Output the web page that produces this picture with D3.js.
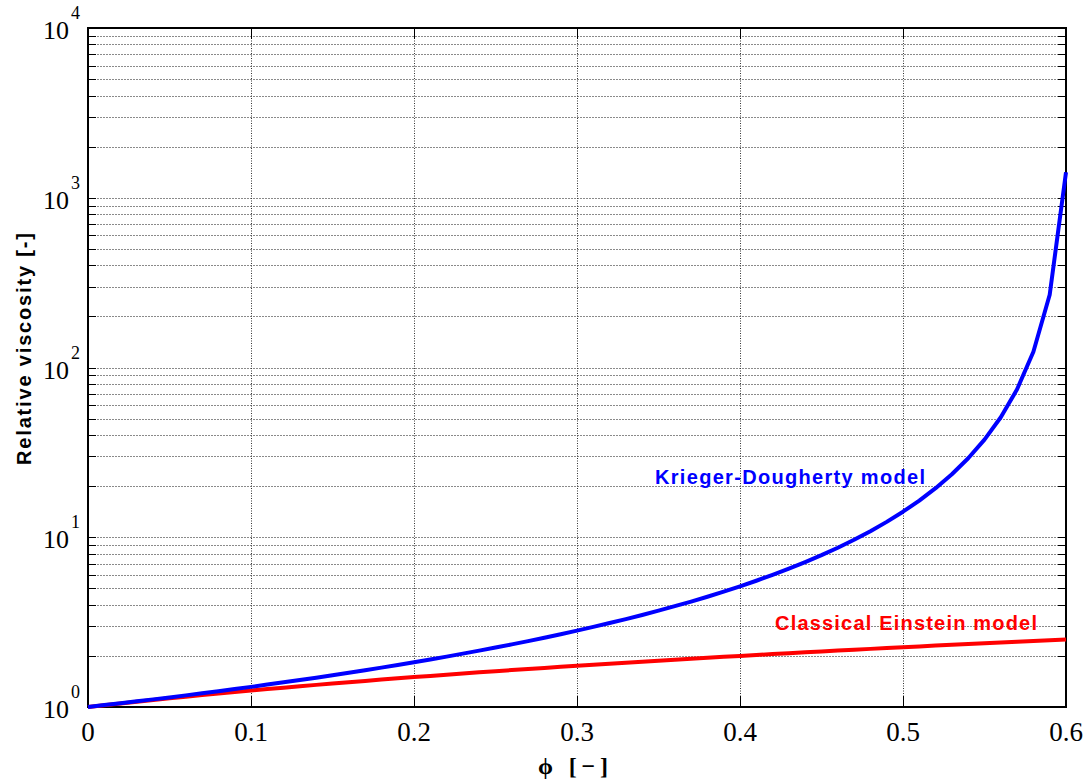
<!DOCTYPE html>
<html><head><meta charset="utf-8">
<script src="https://cdn.jsdelivr.net/npm/d3@7"></script>
<style>body{margin:0;background:#fff}svg{display:block}</style>
</head><body>
<svg id="c" width="1088" height="783"></svg>
<script>
const phi = [0,0.01,0.02,0.03,0.04,0.05,0.06,0.07,0.08,0.09,0.10,0.11,0.12,0.13,0.14,0.15,0.16,0.17,0.18,0.19,0.20,0.21,0.22,0.23,0.24,0.25,0.26,0.27,0.28,0.29,0.30,0.31,0.32,0.33,0.34,0.35,0.36,0.37,0.38,0.39,0.40,0.41,0.42,0.43,0.44,0.45,0.46,0.47,0.48,0.49,0.50,0.51,0.52,0.53,0.54,0.55,0.56,0.57,0.58,0.59,0.60];
const kriegerDougherty = [1,1.026,1.052,1.080,1.109,1.139,1.171,1.204,1.239,1.276,1.314,1.355,1.397,1.442,1.489,1.539,1.591,1.647,1.706,1.768,1.835,1.906,1.981,2.062,2.148,2.240,2.339,2.445,2.560,2.684,2.818,2.963,3.122,3.295,3.485,3.694,3.925,4.180,4.464,4.782,5.139,5.543,6.003,6.529,7.137,7.844,8.677,9.666,10.86,12.32,14.14,16.45,19.46,23.52,29.20,37.60,50.93,74.47,123.9,268.3,1414];
const einstein = [1,1.025,1.05,1.075,1.1,1.125,1.15,1.175,1.2,1.225,1.25,1.275,1.3,1.325,1.35,1.375,1.4,1.425,1.45,1.475,1.5,1.525,1.55,1.575,1.6,1.625,1.65,1.675,1.7,1.725,1.75,1.775,1.8,1.825,1.85,1.875,1.9,1.925,1.95,1.975,2.0,2.025,2.05,2.075,2.1,2.125,2.15,2.175,2.2,2.225,2.25,2.275,2.3,2.325,2.35,2.375,2.4,2.425,2.45,2.475,2.5];
const xTicks = [0,0.1,0.2,0.3,0.4,0.5,0.6];
const xTickLabels = ["0","0.1","0.2","0.3","0.4","0.5","0.6"];
const yMajor = [1,10,100,1000,10000];
const yExp = ["0","1","2","3","4"];

const L=88,R=1066,T=28,B=707;
const svg=d3.select("#c");
const x=d3.scaleLinear().domain([0,0.6]).range([L,R]);
const y=d3.scaleLog().domain([1,10000]).range([B,T]);

const yMinor=[];
for(let d=1;d<10000;d*=10){for(let m=2;m<=9;m++)yMinor.push(d*m);}
const yAll=yMinor.concat(yMajor.slice(1,4));

const g=svg.append("g");
g.selectAll("line.hg").data(yAll).enter().append("line")
 .attr("x1",L).attr("x2",R).attr("y1",d=>Math.round(y(d))+0.5).attr("y2",d=>Math.round(y(d))+0.5)
 .attr("stroke","#8a8a8a").attr("stroke-width",1).attr("stroke-dasharray","2,1");
g.selectAll("line.vg").data(xTicks.slice(1,6)).enter().append("line")
 .attr("y1",T).attr("y2",B).attr("x1",d=>Math.round(x(d))+0.5).attr("x2",d=>Math.round(x(d))+0.5)
 .attr("stroke","#333").attr("stroke-width",1).attr("stroke-dasharray","1,1.5");

const yT=yAll.concat(yMajor);
g.selectAll("line.ylt").data(yT).enter().append("line")
 .attr("x1",L).attr("x2",L+8).attr("y1",d=>Math.round(y(d))+0.5).attr("y2",d=>Math.round(y(d))+0.5)
 .attr("stroke","#000").attr("stroke-width",1);
g.selectAll("line.yrt").data(yT).enter().append("line")
 .attr("x1",R-8).attr("x2",R).attr("y1",d=>Math.round(y(d))+0.5).attr("y2",d=>Math.round(y(d))+0.5)
 .attr("stroke","#000").attr("stroke-width",1);
g.selectAll("line.xbt").data(xTicks).enter().append("line")
 .attr("y1",B).attr("y2",B-11).attr("x1",d=>Math.round(x(d))+0.5).attr("x2",d=>Math.round(x(d))+0.5)
 .attr("stroke","#000").attr("stroke-width",1);
g.selectAll("line.xtt").data(xTicks).enter().append("line")
 .attr("y1",T).attr("y2",T+11).attr("x1",d=>Math.round(x(d))+0.5).attr("x2",d=>Math.round(x(d))+0.5)
 .attr("stroke","#000").attr("stroke-width",1);

svg.append("rect").attr("x",L).attr("y",T).attr("width",R-L).attr("height",B-T)
 .attr("fill","none").attr("stroke","#000").attr("stroke-width",2);

const line=d3.line().x((d,i)=>x(phi[i])).y(d=>y(d));
svg.append("path").datum(einstein).attr("d",line).attr("fill","none").attr("stroke","#ff0000").attr("stroke-width",4).attr("stroke-linejoin","round");
svg.append("path").datum(kriegerDougherty).attr("d",line).attr("fill","none").attr("stroke","#0000ff").attr("stroke-width",4).attr("stroke-linejoin","round");

const serif="Liberation Serif, Times New Roman, serif";
const sans="Liberation Sans, Arial, sans-serif";
svg.selectAll("text.xl").data(xTicks).enter().append("text")
 .attr("x",d=>x(d)).attr("y",741).attr("text-anchor","middle")
 .attr("font-family",serif).attr("font-size",27)
 .text((d,i)=>xTickLabels[i]);
const yl=svg.selectAll("g.yl").data(yMajor).enter().append("g");
yl.append("text").attr("x",69).attr("y",d=>y(d)+11).attr("text-anchor","end")
 .attr("font-family",serif).attr("font-size",26).text("10");
yl.append("text").attr("x",71).attr("y",d=>y(d)-9)
 .attr("font-family",serif).attr("font-size",18).text((d,i)=>yExp[i]);

svg.append("text").attr("x",538).attr("y",774)
 .attr("font-family",serif).attr("font-size",24).attr("font-weight","bold")
 .attr("textLength",70).attr("lengthAdjust","spacing")
 .text("ϕ [−]");
svg.append("text").attr("transform","translate(31,349) rotate(-90)").attr("text-anchor","middle")
 .attr("font-family",sans).attr("font-size",20).attr("font-weight","bold")
 .attr("textLength",232).attr("lengthAdjust","spacing")
 .text("Relative viscosity [-]");

svg.append("text").attr("x",655).attr("y",484)
 .attr("font-family",sans).attr("font-size",20).attr("font-weight","bold")
 .attr("fill","#0000ff").attr("textLength",270).attr("lengthAdjust","spacing").text("Krieger-Dougherty model");
svg.append("text").attr("x",775).attr("y",630)
 .attr("font-family",sans).attr("font-size",20).attr("font-weight","bold")
 .attr("fill","#ff0000").attr("textLength",262).attr("lengthAdjust","spacing").text("Classical Einstein model");
</script>
</body></html>
